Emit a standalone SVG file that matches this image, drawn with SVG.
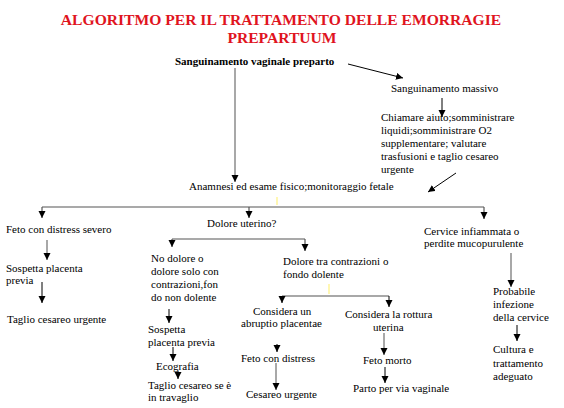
<svg xmlns="http://www.w3.org/2000/svg" width="564" height="408" viewBox="0 0 564 408">
<style>
text{font-family:"Liberation Serif","Times New Roman",serif;font-size:11px;fill:#000}
.title{font-size:15.6px;font-weight:bold;fill:#e0141e;text-anchor:middle}
.b{font-weight:bold}
.k{stroke:#000;stroke-width:1;fill:none}
.g{stroke:#a8a8a8;stroke-width:2;fill:none}
.d{stroke:#555;stroke-width:1.2;fill:none}
.y{stroke:#fff59a;stroke-width:1.5;fill:none}
</style>
<defs>
<marker id="ah" markerUnits="userSpaceOnUse" markerWidth="8" markerHeight="8" refX="7" refY="3.5" orient="auto">
<path d="M0,0 L7,3.5 L0,7 z" fill="#000"/>
</marker>
</defs>
<rect width="564" height="408" fill="#fff"/>
<g id="title">
<text class="title" x="281" y="25">ALGORITMO PER IL TRATTAMENTO DELLE EMORRAGIE</text>
<text class="title" x="282" y="43">PREPARTUUM</text>
</g>
<g id="connectors">
<line class="g" x1="235" y1="68" x2="235" y2="182" marker-end="url(#ah)"/>
<line class="k" x1="348" y1="64" x2="403" y2="78" marker-end="url(#ah)"/>
<line class="k" x1="442" y1="98" x2="442" y2="117" marker-end="url(#ah)"/>
<line class="k" x1="456" y1="173" x2="428" y2="192" marker-end="url(#ah)"/>
<path class="d" d="M42,207 H484"/>
<line class="d" x1="42" y1="207" x2="42" y2="218" marker-end="url(#ah)"/>
<line class="d" x1="249" y1="207" x2="249" y2="218" marker-end="url(#ah)"/>
<line class="d" x1="484" y1="207" x2="484" y2="219" marker-end="url(#ah)"/>
<line class="y" x1="277" y1="197" x2="277" y2="205"/>
<path class="d" d="M172,239 H305"/>
<line class="d" x1="172" y1="239" x2="172" y2="247" marker-end="url(#ah)"/>
<line class="d" x1="305" y1="239" x2="305" y2="251" marker-end="url(#ah)"/>
<line class="g" x1="47" y1="240" x2="47" y2="260" marker-end="url(#ah)"/>
<line class="k" x1="42" y1="282" x2="42" y2="303" marker-end="url(#ah)"/>
<line class="g" x1="511" y1="253" x2="511" y2="287" marker-end="url(#ah)"/>
<line class="k" x1="169" y1="309" x2="169" y2="323" marker-end="url(#ah)"/>
<line class="k" x1="173" y1="347" x2="173" y2="361" marker-end="url(#ah)"/>
<line class="k" x1="178" y1="371" x2="178" y2="379" marker-end="url(#ah)"/>
<path class="g" d="M282,296 H389"/>
<line class="k" x1="282" y1="296" x2="282" y2="303" marker-end="url(#ah)"/>
<line class="k" x1="389" y1="296" x2="389" y2="307" marker-end="url(#ah)"/>
<line class="y" x1="329" y1="284" x2="329" y2="294"/>
<line class="k" x1="277" y1="344" x2="277" y2="352" marker-end="url(#ah)"/>
<line class="g" x1="276" y1="363" x2="276" y2="390" marker-end="url(#ah)"/>
<line class="g" x1="384" y1="333" x2="384" y2="355" marker-end="url(#ah)"/>
<line class="k" x1="385" y1="367" x2="385" y2="383" marker-end="url(#ah)"/>
<line class="k" x1="517" y1="325" x2="517" y2="341" marker-end="url(#ah)"/>
</g>
<g id="n-sanguinamento"><text class="b" x="175" y="65">Sanguinamento vaginale preparto</text></g>
<g id="n-massivo"><text x="391" y="92">Sanguinamento massivo</text></g>
<g id="n-chiamare">
<text x="381" y="121">Chiamare aiuto;somministrare</text>
<text x="381" y="134">liquidi;somministrare O2</text>
<text x="381" y="147">supplementare; valutare</text>
<text x="381" y="160">trasfusioni e taglio cesareo</text>
<text x="381" y="173">urgente</text>
</g>
<g id="n-anamnesi"><text x="189" y="190">Anamnesi ed esame fisico;monitoraggio fetale</text></g>
<g id="n-feto-severo"><text x="6" y="233">Feto con distress severo</text></g>
<g id="n-dolore"><text x="207" y="227">Dolore uterino?</text></g>
<g id="n-cervice">
<text x="424" y="235">Cervice infiammata o</text>
<text x="424" y="247">perdite mucopurulente</text>
</g>
<g id="n-sospetta1">
<text x="6" y="272">Sospetta placenta</text>
<text x="6" y="284">previa</text>
</g>
<g id="n-taglio1"><text x="7" y="323">Taglio cesareo urgente</text></g>
<g id="n-nodolore">
<text x="151" y="262">No dolore o</text>
<text x="151" y="275">dolore solo con</text>
<text x="151" y="288">contrazioni,fon</text>
<text x="151" y="301">do non dolente</text>
</g>
<g id="n-doloretra">
<text x="283" y="265">Dolore tra contrazioni o</text>
<text x="283" y="278">fondo dolente</text>
</g>
<g id="n-abruptio">
<text x="253" y="315">Considera un</text>
<text x="241" y="327">abruptio placentae</text>
</g>
<g id="n-feto-distress"><text x="241" y="362">Feto con distress</text></g>
<g id="n-cesareo"><text x="246" y="398">Cesareo urgente</text></g>
<g id="n-sospetta2">
<text x="148" y="333">Sospetta</text>
<text x="148" y="346">placenta previa</text>
</g>
<g id="n-ecografia"><text x="156" y="370">Ecografia</text></g>
<g id="n-taglio2">
<text x="148" y="389">Taglio cesareo se è</text>
<text x="148" y="401">in travaglio</text>
</g>
<g id="n-rottura">
<text x="345" y="318">Considera la rottura</text>
<text x="373" y="331">uterina</text>
</g>
<g id="n-feto-morto"><text x="363" y="364">Feto morto</text></g>
<g id="n-parto"><text x="353" y="392">Parto per via vaginale</text></g>
<g id="n-probabile">
<text x="493" y="295">Probabile</text>
<text x="493" y="308">infezione</text>
<text x="493" y="321">della cervice</text>
</g>
<g id="n-cultura">
<text x="493" y="353">Cultura e</text>
<text x="493" y="367">trattamento</text>
<text x="493" y="380">adeguato</text>
</g>
</svg>
